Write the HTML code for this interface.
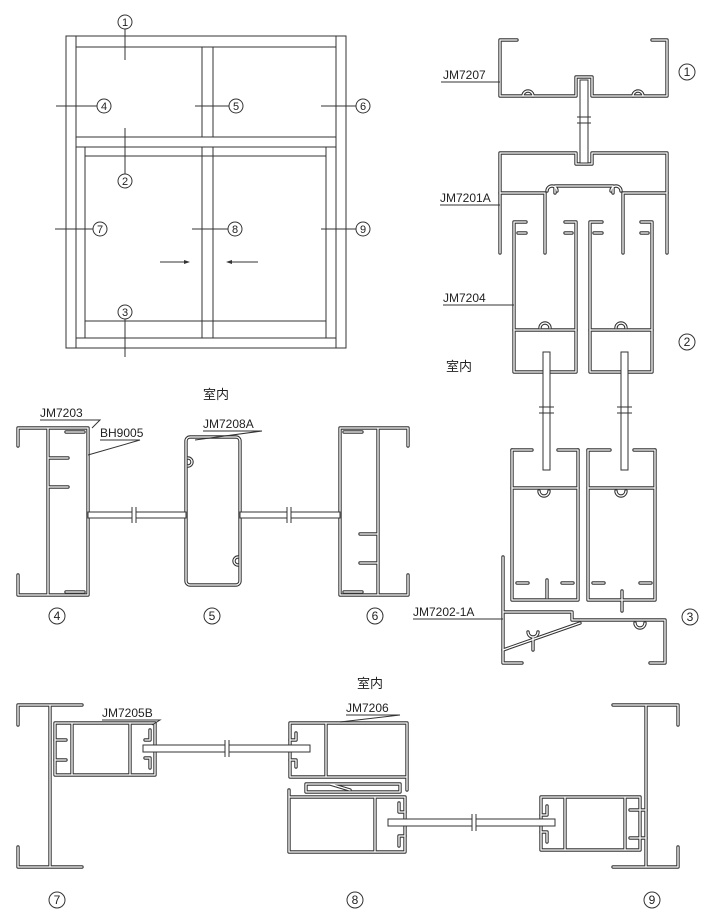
<!DOCTYPE html>
<html><head><meta charset="utf-8"><style>
html,body{margin:0;padding:0;background:#fff;}
svg{display:block;}
text{font-family:"Liberation Sans","Noto Sans CJK SC",sans-serif;fill:#222;}
</style></head><body>
<svg width="718" height="924" viewBox="0 0 718 924" xmlns="http://www.w3.org/2000/svg">
<defs>
<g id="prof" fill="none" stroke-linejoin="round" stroke-linecap="round">
<!-- JM7207 -->
<path d="M517,40 H500 V96 H576 V77 H592 V96 H667 V40 H652"/>
<path d="M523,96 a5,5 0 1 1 10,0 M633,96 a5,5 0 1 1 10,0"/>
<!-- JM7201A -->
<path d="M500,253 V153 H576 V164 H592 V153 H667 V253"/>
<path d="M500,193 H545 M623,193 H667 M545,193 V253 M623,193 V253 M555,193 V186 H613 V193"/>
<path d="M547,191 a5,5 0 1 1 10,0 M611,191 a5,5 0 1 1 10,0"/>
<!-- JM7204 upper sashes -->
<path d="M526,222 H514 V372 H576 V222 H565 M526,233 H518 M565,233 H572"/>
<path d="M602,222 H590 V372 H652 V222 H641 M602,233 H594 M641,233 H648"/>
<path d="M514,330 H576 M590,330 H652"/>
<path d="M540,328 a5,5 0 1 1 10,0 M616,328 a5,5 0 1 1 10,0"/>
<!-- lower sashes -->
<path d="M512,450 V600 H578 V450 M588,450 V600 H655 V450"/>
<path d="M512,450 H532 M558,450 H578 M588,450 H610 M634,450 H655"/>
<path d="M512,488 H578 M588,488 H655"/>
<path d="M539,491 a5,5 0 1 0 10,0 M616,491 a5,5 0 1 0 10,0"/>
<path d="M517,583 H528 M562,583 H573 M593,583 H604 M640,583 H651"/>
<path d="M547,580 V598 M622,591 V611"/>
<!-- JM7202-1A -->
<path d="M503,557 V663 H522 M503,612 H572 V620 H665 V663 H650"/>
<path d="M503,650 L580,623"/>
<path d="M528,632 a5,5 0 1 0 10,0 M533,637 V650 M635,623 a5,5 0 1 0 10,0"/>
<!-- Section 4 JM7203 -->
<path d="M18,446 V428 H88 V595 H18 V575 M48,428 V595 M48,458 H68 M48,487 H68"/>
<path d="M66,432 H84 M66,592 H84"/>
<!-- Section 5 JM7208A -->
<rect x="186" y="437" width="54" height="148" rx="4"/>
<path d="M188,458 a4,4 0 1 1 0,8 M238,557 a4,4 0 1 0 0,8"/>
<!-- Section 6 -->
<path d="M408,446 V428 H340 V595 H408 V575 M378,428 V595 M378,534 H360 M378,563 H360"/>
<path d="M344,432 H362 M344,592 H362"/>
<!-- Section 7 -->
<path d="M18,725 V705 H82 M18,847 V867 H82 M50,705 V867"/>
<path d="M55,723 H155 V775 H55 Z M72,723 V775 M130,723 V775"/>
<path d="M55,740 H66 M55,760 H66 M150,730 V740 H145 M150,768 V758 H145"/>
<!-- Section 8 -->
<path d="M290,723 H407 V790 M290,723 V777 H407 M326,723 V777"/>
<path d="M296,733 V740 H290 M296,767 V760 H290"/>
<path d="M306,784 H400 V792 H306 Z M330,784 L350,790"/>
<path d="M289,790 V852 H405 V797 H289 M375,797 V852"/>
<path d="M399,803 V812 H405 M399,846 V836 H405"/>
<!-- Section 9 -->
<path d="M678,725 V705 H613 M678,847 V867 H613 M646,705 V867"/>
<path d="M541,797 H640 V850 H541 Z M565,797 V850 M625,797 V850"/>
<path d="M547,806 V815 H541 M547,842 V832 H541 M630,810 H646 M630,838 H646"/>
</g>
</defs>
<use href="#prof" stroke="#333" stroke-width="3.4"/>
<use href="#prof" stroke="#fff" stroke-width="1.3"/>
<!-- glass -->
<g stroke="#333" stroke-width="1" fill="#fff">
<rect x="580" y="80" width="8" height="83"/>
<rect x="543" y="352" width="7" height="118"/>
<rect x="621" y="352" width="7" height="118"/>
<rect x="88" y="512" width="98" height="6"/>
<rect x="240" y="512" width="100" height="6"/>
<rect x="143" y="745" width="167" height="7"/>
<rect x="388" y="819" width="167" height="7"/>
</g>
<g stroke="#fff" stroke-width="4" fill="none">
<path d="M584,118 V122 M546,408 V412 M624,408 V412 M134,511 V519 M289,511 V519 M227,744 V753 M474,818 V827"/>
</g>
<g stroke="#333" stroke-width="1" fill="none">
<path d="M577,117 H591 M577,123 H591 M539,407 H554 M539,413 H554 M617,407 H632 M617,413 H632"/>
<path d="M132,507 V523 M136,507 V523 M287,507 V523 M291,507 V523 M225,740 V757 M229,740 V757 M472,814 V831 M476,814 V831"/>
<!-- Elevation -->
<rect x="66" y="36" width="280" height="312"/>
<path d="M76,36 V348 M336,36 V348 M76,47 H336 M76,338 H336"/>
<path d="M202,47 V137 M213,47 V137 M76,137 H336 M76,147 H336"/>
<path d="M85,147 V338 M326,147 V338 M85,156 H326 M85,321 H326"/>
<path d="M202,147 V338 M213,147 V338"/>
<!-- leader lines -->
<path d="M125,29 V60 M125,128 V174 M125,319 V357 M56,106 H97 M195,106 H229 M321,106 H356 M55,229 H93 M192,229 H228 M321,229 H356"/>
<path d="M160,262 H188 M258,262 H228"/>
<path d="M441,82 H500 M440,205 H500 M443,305 H514 M413,619 H503 M40,420 H100 L92,428 M100,440 H140 L88,455 M203,431 H262 L195,440 M102,720 H160 L152,725 M346,715 H400 L340,722"/>
</g>
<path d="M190,262 l-6,-2 v4z M226,262 l6,-2 v4z" fill="#333"/>
<g fill="none" stroke="#333" stroke-width="1">
<circle cx="125" cy="22" r="7"/><circle cx="125" cy="181" r="7"/><circle cx="125" cy="312" r="7"/>
<circle cx="104" cy="106" r="7"/><circle cx="236" cy="106" r="7"/><circle cx="363" cy="106" r="7"/>
<circle cx="100" cy="229" r="7"/><circle cx="235" cy="229" r="7"/><circle cx="363" cy="229" r="7"/>
<circle cx="687" cy="72" r="8"/><circle cx="687" cy="342" r="8"/><circle cx="690" cy="617" r="8"/>
<circle cx="57" cy="616" r="8"/><circle cx="212" cy="616" r="8"/><circle cx="375" cy="616" r="8"/>
<circle cx="57" cy="900" r="8"/><circle cx="355" cy="900" r="8"/><circle cx="652" cy="900" r="8"/>
</g>
<g font-size="11" text-anchor="middle">
<text x="125" y="26">1</text><text x="125" y="185">2</text><text x="125" y="316">3</text>
<text x="104" y="110">4</text><text x="236" y="110">5</text><text x="363" y="110">6</text>
<text x="100" y="233">7</text><text x="235" y="233">8</text><text x="363" y="233">9</text>
</g>
<g font-size="12" text-anchor="middle">
<text x="687" y="76">1</text><text x="687" y="346">2</text><text x="690" y="621">3</text>
<text x="57" y="620">4</text><text x="212" y="620">5</text><text x="375" y="620">6</text>
<text x="57" y="904">7</text><text x="355" y="904">8</text><text x="652" y="904">9</text>
</g>
<g font-size="12">
<text x="443" y="79">JM7207</text>
<text x="440" y="202">JM7201A</text>
<text x="443" y="302">JM7204</text>
<text x="413" y="616">JM7202-1A</text>
<text x="40" y="417">JM7203</text>
<text x="100" y="437">BH9005</text>
<text x="203" y="428">JM7208A</text>
<text x="102" y="717">JM7205B</text>
<text x="346" y="712">JM7206</text>
</g>
<g font-size="13">
<text x="446" y="371">室内</text>
<text x="203" y="399">室内</text>
<text x="357" y="688">室内</text>
</g>
</svg>
</body></html>
